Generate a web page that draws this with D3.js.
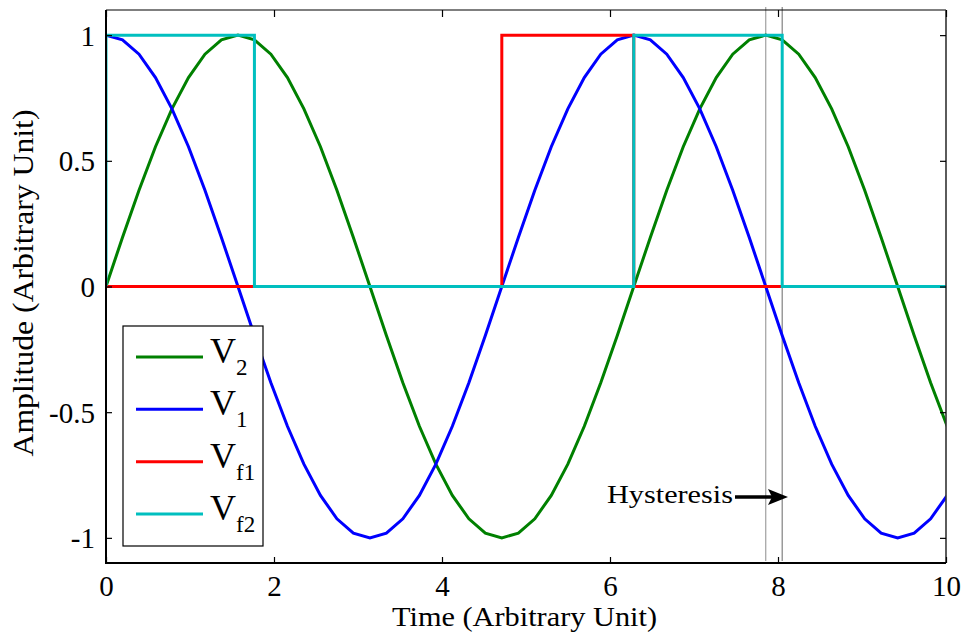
<!DOCTYPE html>
<html>
<head>
<meta charset="utf-8">
<script src="https://cdn.jsdelivr.net/npm/d3@7"></script>
<style>
  html, body { margin: 0; padding: 0; background: #fff; }
  svg { display: block; }
</style>
</head>
<body>
<svg id="chart" width="965" height="637"></svg>
<script>
// ---- data ----
const timeSamples = [0, 0.196, 0.393, 0.589, 0.785, 0.982, 1.178, 1.374, 1.571, 1.767,
  1.963, 2.160, 2.356, 2.553, 2.749, 2.945, 3.142, 3.338, 3.534, 3.731,
  3.927, 4.123, 4.320, 4.516, 4.712, 4.909, 5.105, 5.301, 5.498, 5.694,
  5.890, 6.087, 6.283, 6.480, 6.676, 6.872, 7.069, 7.265, 7.461, 7.658,
  7.854, 8.050, 8.247, 8.443, 8.639, 8.836, 9.032, 9.228, 9.425, 9.621,
  9.817, 10.014];
const v2Values = [0, 0.195, 0.383, 0.556, 0.707, 0.831, 0.924, 0.981, 1, 0.981,
  0.924, 0.831, 0.707, 0.556, 0.383, 0.195, 0, -0.195, -0.383, -0.556,
  -0.707, -0.831, -0.924, -0.981, -1, -0.981, -0.924, -0.831, -0.707, -0.556,
  -0.383, -0.195, 0, 0.195, 0.383, 0.556, 0.707, 0.831, 0.924, 0.981,
  1, 0.981, 0.924, 0.831, 0.707, 0.556, 0.383, 0.195, 0, -0.195,
  -0.383, -0.556];
const v1Values = [1, 0.981, 0.924, 0.831, 0.707, 0.556, 0.383, 0.195, 0, -0.195,
  -0.383, -0.556, -0.707, -0.831, -0.924, -0.981, -1, -0.981, -0.924, -0.831,
  -0.707, -0.556, -0.383, -0.195, 0, 0.195, 0.383, 0.556, 0.707, 0.831,
  0.924, 0.981, 1, 0.981, 0.924, 0.831, 0.707, 0.556, 0.383, 0.195,
  0, -0.195, -0.383, -0.556, -0.707, -0.831, -0.924, -0.981, -1, -0.981,
  -0.924, -0.831];
const vf1Times  = [0, 4.712, 4.712, 6.283, 6.283, 10];
const vf1Values = [0, 0, 1, 1, 0, 0];
const vf2Times  = [0, 0, 1.767, 1.767, 6.283, 6.283, 8.050, 8.050, 10];
const vf2Values = [0, 1, 1, 0, 0, 1, 1, 0, 0];
const hysteresisTimes = [7.854, 8.050];
const xTicks = [0, 2, 4, 6, 8, 10];
const yTicks = [-1, -0.5, 0, 0.5, 1];
const yTickLabels = ["-1", "-0.5", "0", "0.5", "1"];
const seriesNames = ["V2", "V1", "Vf1", "Vf2"];
const seriesColors = ["#008000", "#0000ff", "#ff0000", "#00bfbf"];

// ---- layout ----
const svg = d3.select("#chart");
const L = 106, R = 946, T = 10, B = 563;
const FONT = "'Liberation Serif', 'Times New Roman', Times, serif";
const x = d3.scaleLinear().domain([0, 10]).range([L, R]);
const y = d3.scaleLinear().domain([-1.1, 1.1]).range([B, T]);

svg.append("defs").append("clipPath").attr("id", "plotclip")
  .append("rect").attr("x", L).attr("y", T).attr("width", R - L).attr("height", B - T);

const zip = (xs, ys) => xs.map((t, i) => [t, ys[i]]);
const series = [
  zip(timeSamples, v2Values),
  zip(timeSamples, v1Values),
  zip(vf1Times, vf1Values),
  zip(vf2Times, vf2Values)
];
const line = d3.line().x(d => x(d[0])).y(d => y(d[1]));

// hysteresis markers
svg.append("g").selectAll("line").data(hysteresisTimes).join("line")
  .attr("x1", d => x(d)).attr("x2", d => x(d))
  .attr("y1", T - 3).attr("y2", B - 2)
  .attr("stroke", (d, i) => i === 0 ? "#a0a0a0" : "#808080")
  .attr("stroke-width", 1.2);

const plot = svg.append("g").attr("clip-path", "url(#plotclip)");
plot.selectAll("path").data(series).join("path")
  .attr("d", line)
  .attr("fill", "none")
  .attr("stroke", (d, i) => seriesColors[i])
  .attr("stroke-width", 3)
  .attr("stroke-linejoin", "miter");

// frame
svg.append("line").attr("x1", L).attr("x2", R).attr("y1", T).attr("y2", T)
  .attr("stroke", "#000").attr("stroke-width", 1.2);
svg.append("line").attr("x1", R).attr("x2", R).attr("y1", T).attr("y2", B)
  .attr("stroke", "#333").attr("stroke-width", 1.6);
svg.append("line").attr("x1", L).attr("x2", L).attr("y1", T).attr("y2", B + 1)
  .attr("stroke", "#000").attr("stroke-width", 2);
svg.append("line").attr("x1", L - 1).attr("x2", R).attr("y1", B).attr("y2", B)
  .attr("stroke", "#000").attr("stroke-width", 2);

// axes via d3
const xAxis = svg.append("g").attr("transform", `translate(0,${B})`)
  .call(d3.axisBottom(x).tickValues(xTicks).tickSize(-6).tickPadding(12).tickFormat(d3.format("d")));
xAxis.select(".domain").remove();
xAxis.selectAll(".tick line").attr("stroke", "#000").attr("stroke-width", 1.2);
xAxis.selectAll("text").attr("font-size", 29).attr("dy", "0.71em")
  .style("font-family", FONT).style("fill", "#000");

const xAxisTop = svg.append("g").attr("transform", `translate(0,${T})`)
  .call(d3.axisTop(x).tickValues(xTicks).tickSize(-7).tickFormat(""));
xAxisTop.select(".domain").remove();
xAxisTop.selectAll(".tick line").attr("stroke", "#000").attr("stroke-width", 1.2);

const yAxis = svg.append("g").attr("transform", `translate(${L},0)`)
  .call(d3.axisLeft(y).tickValues(yTicks).tickSize(-6).tickPadding(11)
    .tickFormat((d, i) => yTickLabels[i]));
yAxis.select(".domain").remove();
yAxis.selectAll(".tick line").attr("stroke", "#000").attr("stroke-width", 1.2);
yAxis.selectAll("text").attr("font-size", 29).attr("dy", "0.34em")
  .style("font-family", FONT).style("fill", "#000");

const yAxisRight = svg.append("g").attr("transform", `translate(${R},0)`)
  .call(d3.axisRight(y).tickValues(yTicks).tickSize(-6).tickFormat(""));
yAxisRight.select(".domain").remove();
yAxisRight.selectAll(".tick line").attr("stroke", "#000").attr("stroke-width", 1.2);

// axis titles
svg.append("text").attr("x", 524.5).attr("y", 626).attr("text-anchor", "middle")
  .style("font-family", FONT)
  .attr("font-size", 27).attr("textLength", 265).attr("lengthAdjust", "spacingAndGlyphs")
  .text("Time (Arbitrary Unit)");
svg.append("text").attr("transform", "translate(33,283) rotate(-90)")
  .style("font-family", FONT)
  .attr("text-anchor", "middle").attr("font-size", 29)
  .attr("textLength", 347).attr("lengthAdjust", "spacingAndGlyphs")
  .text("Amplitude (Arbitrary Unit)");

// hysteresis annotation
svg.append("text").attr("x", 607).attr("y", 503).attr("font-size", 26)
  .style("font-family", FONT)
  .attr("textLength", 126).attr("lengthAdjust", "spacingAndGlyphs")
  .text("Hysteresis");
svg.append("line").attr("x1", 735).attr("x2", 774).attr("y1", 497).attr("y2", 497)
  .attr("stroke", "#000").attr("stroke-width", 3.5);
svg.append("path").attr("d", "M788,497 L768,489 L772,497 L768,505 Z").attr("fill", "#000");

// legend
const leg = svg.append("g");
leg.append("rect").attr("x", 123).attr("y", 326).attr("width", 140).attr("height", 220)
  .attr("fill", "#fff").attr("stroke", "#000").attr("stroke-width", 1.2);
const legY = d3.scalePoint().domain(seriesNames).range([357, 514]);
const entries = leg.selectAll("g.e").data(seriesNames).join("g").attr("class", "e")
  .attr("transform", d => `translate(0,${legY(d)})`);
entries.append("line").attr("x1", 136).attr("x2", 203).attr("y1", 0).attr("y2", 0)
  .attr("stroke", (d, i) => seriesColors[i]).attr("stroke-width", 3);
const lt = entries.append("text").attr("x", 210).attr("y", 6).attr("font-size", 36)
  .style("font-family", FONT);
lt.append("tspan").text("V");
lt.append("tspan").attr("font-size", 23).attr("dy", 12).attr("dx", 0).text(d => d.slice(1));
</script>
</body>
</html>
